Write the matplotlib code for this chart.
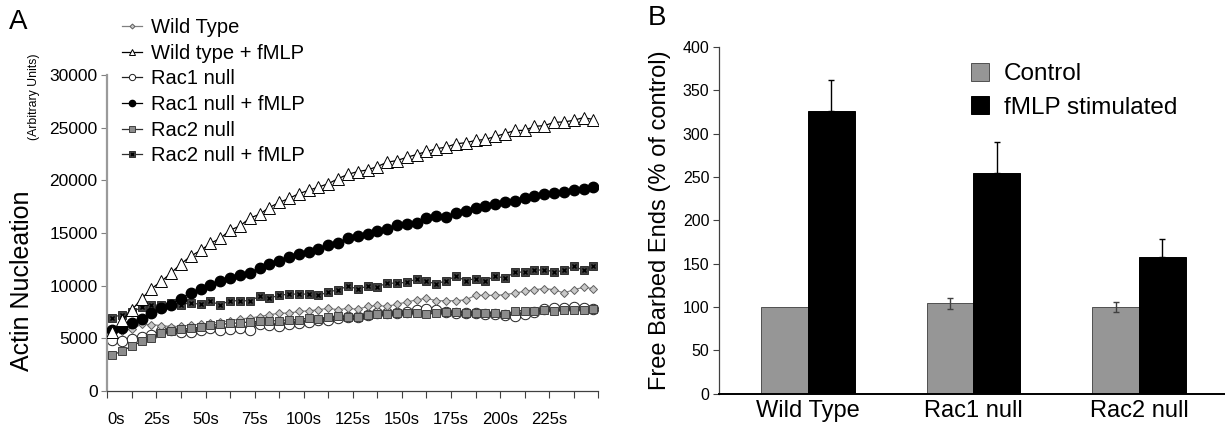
import numpy as np
import matplotlib
matplotlib.use("Agg")
import matplotlib.pyplot as plt
from matplotlib.legend_handler import HandlerTuple
from matplotlib.ticker import MultipleLocator

plt.rcParams['font.family'] = ['Liberation Sans', 'DejaVu Sans']

# ---------------- Panel A data ----------------
time_s = np.arange(2.5, 250, 5)  # sampling times (s)
time_labels = ['0s', '25s', '50s', '75s', '100s', '125s', '150s', '175s', '200s', '225s']

wild_type = [5500, 5700, 5900, 6340, 6300, 6210, 6110, 6150, 6270, 6340,
             6430, 6530, 6660, 6850, 6910, 7070, 7230, 7390, 7390, 7550,
             7610, 7710, 7860, 7710, 7860, 7750, 8030, 8120, 8030, 8250,
             8440, 8660, 8800, 8570, 8570, 8570, 8660, 9080, 9080, 9080,
             9140, 9300, 9460, 9620, 9720, 9620, 9300, 9620, 9840, 9720]
wild_type_fmlp = [5600, 6700, 7700, 8760, 9720, 10410, 11210, 12070, 12800, 13350,
                  14010, 14490, 15260, 15670, 16400, 16780, 17420, 17900, 18280, 18730,
                  19050, 19360, 19680, 20160, 20570, 20830, 20990, 21310, 21720, 21880,
                  22190, 22450, 22740, 23000, 23150, 23470, 23570, 23790, 23880, 24170,
                  24430, 24740, 24740, 25130, 25190, 25510, 25540, 25700, 25960, 25770]
rac1_null = [4840, 4750, 4940, 5160, 5320, 5700, 5800, 5640, 5640, 5800,
             5950, 5800, 5890, 5950, 5800, 6340, 6270, 6210, 6340, 6430,
             6590, 6750, 6750, 6910, 7070, 7070, 7230, 7400, 7400, 7450,
             7500, 7700, 7800, 7650, 7500, 7400, 7450, 7400, 7350, 7300,
             7200, 7100, 7350, 7500, 7800, 7900, 7900, 8000, 7850, 7800]
rac1_null_fmlp = [5800, 6020, 6430, 6850, 7390, 7860, 8190, 8760, 9350, 9700,
                  10100, 10410, 10760, 11050, 11210, 11690, 12010, 12320, 12710, 12960,
                  13210, 13500, 13820, 14070, 14490, 14700, 14930, 15190, 15410, 15730,
                  15830, 15990, 16460, 16620, 16530, 16940, 17100, 17370, 17580, 17740,
                  17900, 18060, 18280, 18530, 18690, 18760, 18920, 19080, 19180, 19390]
rac2_null = [3410, 3790, 4270, 4700, 5050, 5520, 5700, 5860, 5960, 6060,
             6260, 6320, 6420, 6470, 6560, 6620, 6690, 6650, 6780, 6760,
             6940, 6880, 7010, 7100, 7060, 7070, 7230, 7290, 7290, 7390,
             7390, 7450, 7290, 7390, 7480, 7480, 7450, 7390, 7450, 7450,
             7290, 7610, 7640, 7610, 7710, 7550, 7710, 7710, 7710, 7800]
rac2_null_fmlp = [6970, 7260, 7520, 7930, 8120, 8190, 8320, 8190, 8380, 8220,
                  8500, 8190, 8570, 8570, 8570, 8980, 8820, 9080, 9200, 9200,
                  9200, 9080, 9390, 9620, 9940, 9700, 9940, 9910, 10220, 10250,
                  10320, 10630, 10410, 10160, 10480, 10890, 10480, 10670, 10480, 10890,
                  10730, 11270, 11300, 11440, 11530, 11300, 11440, 11850, 11460, 11850]

# ---------------- Panel B data ----------------
genotypes = ['Wild Type', 'Rac1 null', 'Rac2 null']
control = [100, 104, 100]
control_err = [0, 6.6, 6.2]
fmlp = [326, 254, 158]
fmlp_err = [36, 36, 20]

W, H = 1225, 426
fig = plt.figure(figsize=(W / 100, H / 100), dpi=100)

def fx(px):
    return px / W

def fy(py):
    return 1 - py / H

# ---------------- Panel A ----------------
axA = fig.add_axes([fx(107.3), fy(391), fx(598.3) - fx(107.3), fy(75) - fy(391)])

h_wt, = axA.plot(time_s, wild_type, '-', color='#808080', lw=0.9, marker='D', ms=4.2,
                 mfc='#c8c8c8', mec='#606060', mew=0.7, zorder=3)
h_rac1, = axA.plot(time_s, rac1_null, '-', color='#202020', lw=0.9, marker='o', ms=7.5,
                   mfc='white', mec='#202020', mew=0.7, zorder=2)
h_rac2, = axA.plot(time_s, rac2_null, '-', color='#303030', lw=0.9, marker='s', ms=6.3,
                   mfc='#8c8c8c', mec='#404040', mew=0.7, zorder=4)
h_rac2f, = axA.plot(time_s, rac2_null_fmlp, '-', color='#303030', lw=0.9, marker='s', ms=6.3,
                    mfc='#404040', mec='#303030', mew=0.7, zorder=4)
h_rac2fx, = axA.plot(time_s, rac2_null_fmlp, ls='none', marker='x', ms=3.5,
                     mec='black', mew=1.0, zorder=5)
h_rac1f, = axA.plot(time_s, rac1_null_fmlp, '-', color='black', lw=0.9, marker='o', ms=7.5,
                    mfc='black', mec='black', zorder=5)
h_wtf, = axA.plot(time_s, wild_type_fmlp, '-', color='black', lw=0.9, marker='^', ms=8,
                  mfc='white', mec='black', mew=0.7, zorder=6)

axA.set_xlim(0, 250)
axA.set_ylim(0, 30000)
axA.set_yticks(np.arange(0, 30001, 5000))
axA.tick_params(axis='y', labelsize=12.5, length=4, width=0.8, color='#808080', pad=3)
axA.xaxis.set_minor_locator(MultipleLocator(12.5))
axA.set_xticks(np.arange(0, 226, 25))
axA.set_xticklabels(time_labels)
axA.tick_params(axis='x', which='both', length=5, width=0.8, color='#404040', labelsize=12, pad=10)
axA.get_xticklabels()[0].set_horizontalalignment('left')
for s in ['top', 'right']:
    axA.spines[s].set_visible(False)
axA.spines['left'].set_color('#9a9a9a')
axA.spines['left'].set_linewidth(1.6)
axA.spines['bottom'].set_color('#404040')
axA.spines['bottom'].set_linewidth(0.9)

legA = fig.legend([h_wt, h_wtf, h_rac1, h_rac1f, h_rac2, (h_rac2f, h_rac2fx)],
                  ['Wild Type', 'Wild type + fMLP', 'Rac1 null', 'Rac1 null + fMLP',
                   'Rac2 null', 'Rac2 null + fMLP'],
                  handler_map={tuple: HandlerTuple(ndivide=1)},
                  loc='upper left', bbox_to_anchor=(fx(122), fy(18)),
                  frameon=False, fontsize=14.5, markerscale=0.6,
                  handlelength=1.0, handletextpad=0.45, labelspacing=0.33,
                  borderaxespad=0, borderpad=0)

fig.text(fx(22), fy(281), 'Actin Nucleation', rotation=90, fontsize=18,
         ha='center', va='center')
fig.text(fx(34), fy(97), '(Arbitrary Units)', rotation=90, fontsize=8.8,
         ha='center', va='center')
fig.text(fx(18), fy(22), 'A', fontsize=20, ha='center', va='center')

# ---------------- Panel B ----------------
axB = fig.add_axes([fx(719), fy(393.5), fx(1225) - fx(719), fy(47) - fy(393.5)])
xpos = np.arange(len(genotypes))
bw = 0.283
axB.bar(xpos - bw / 2, control, bw, color='#969696', edgecolor='#505050', linewidth=0.7,
        label='Control', zorder=2)
axB.bar(xpos + bw / 2, fmlp, bw, color='black', edgecolor='black', linewidth=0.7,
        label='fMLP stimulated', zorder=2)
ctrl_idx = [i for i, e in enumerate(control_err) if e > 0]
axB.errorbar(xpos[ctrl_idx] - bw / 2, [control[i] for i in ctrl_idx],
             yerr=[control_err[i] for i in ctrl_idx], fmt='none', ecolor='#404040',
             elinewidth=1.0, capsize=2.2, capthick=1.0, zorder=3)
axB.errorbar(xpos + bw / 2, fmlp, yerr=[np.zeros(len(fmlp)), fmlp_err], fmt='none',
             ecolor='black', elinewidth=1.0, capsize=2.2, capthick=1.0, zorder=3)

axB.set_xlim(-0.538, 2.52)
axB.set_ylim(0, 400)
axB.set_yticks(np.arange(0, 401, 50))
axB.set_xticks(xpos)
axB.set_xticklabels(genotypes)
axB.tick_params(axis='x', length=0, labelsize=17, pad=5)
axB.tick_params(axis='y', labelsize=11.5, length=4, width=0.8, color='#404040', pad=3)
for s in ['top', 'right']:
    axB.spines[s].set_visible(False)
axB.spines['left'].set_color('#404040')
axB.spines['left'].set_linewidth(0.9)
axB.spines['bottom'].set_color('black')
axB.spines['bottom'].set_linewidth(1.4)
axB.set_ylabel('Free Barbed Ends (% of control)', fontsize=17, labelpad=8)

legB = axB.legend(loc='upper left', bbox_to_anchor=(fx(971), fy(63)),
                  bbox_transform=fig.transFigure, frameon=False, fontsize=17.5,
                  handlelength=0.75, handleheight=0.75, handletextpad=0.6,
                  labelspacing=0.45, borderaxespad=0, borderpad=0)
fig.text(fx(657), fy(18), 'B', fontsize=20, ha='center', va='center')

fig.savefig('out.png', dpi=100)
